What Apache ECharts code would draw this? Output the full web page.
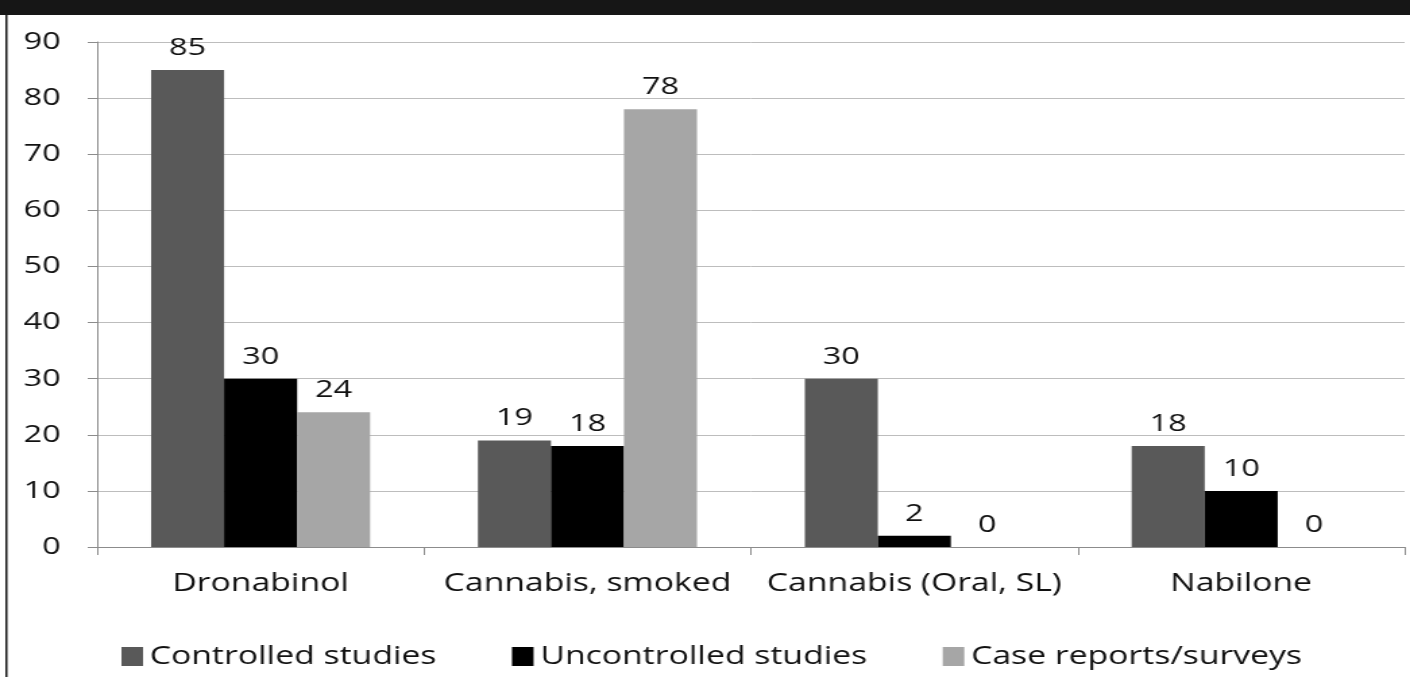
<!DOCTYPE html>
<html>
<head>
<meta charset="utf-8">
<script src="https://cdn.jsdelivr.net/npm/echarts@6/dist/echarts.min.js"></script>
<style>
  html, body { margin: 0; padding: 0; background: #fff; overflow: hidden; }
  /* the source figure is stretched sideways, so the chart is drawn narrower and widened */
  #chart { width: 1045px; height: 677px; transform: scaleX(1.3493); transform-origin: 0 0; }
</style>
</head>
<body>
<div id="chart"></div>
<script>
const categories = ['Dronabinol', 'Cannabis, smoked', 'Cannabis (Oral, SL)', 'Nabilone'];
const controlled = [85, 19, 30, 18];
const uncontrolled = [30, 18, 2, 10];
const caseReports = [24, 78, 0, 0];
const yTicks = [0, 90, 10]; // min, max, interval

const font = '"Open Sans", "Liberation Sans", sans-serif';

const chart = echarts.init(document.getElementById('chart'));

function barSeries(name, data, color) {
    return {
        name: name,
        type: 'bar',
        data: data,
        barGap: '0%',
        barCategoryGap: '33%',
        itemStyle: { color: color },
        label: {
            show: true,
            position: 'top',
            distance: 10,
            color: '#111',
            fontFamily: font,
            fontSize: 24
        }
    };
}

const option = {
    animation: false,
    backgroundColor: '#fff',
    grid: { left: 72, right: 4, top: 42, bottom: 130 },
    legend: {
        bottom: 3,
        left: 85,
        itemWidth: 16,
        itemHeight: 19,
        itemGap: 56,
        icon: 'rect',
        textStyle: { fontFamily: font, fontSize: 25, color: '#111' },
        data: ['Controlled studies', 'Uncontrolled studies', 'Case reports/surveys']
    },
    xAxis: {
        type: 'category',
        data: categories,
        axisLine: { lineStyle: { color: '#8c8c8c', width: 1 } },
        axisTick: { show: true, length: 8, lineStyle: { color: '#8c8c8c' } },
        axisLabel: { interval: 0, color: '#111', fontFamily: font, fontSize: 25, margin: 24 }
    },
    yAxis: {
        type: 'value',
        min: yTicks[0],
        max: yTicks[1],
        interval: yTicks[2],
        axisLine: { show: true, lineStyle: { color: '#8c8c8c', width: 1 } },
        axisTick: { show: true, length: 7, lineStyle: { color: '#8c8c8c' } },
        splitLine: { lineStyle: { color: '#bdbdbd', width: 1 } },
        axisLabel: { color: '#111', fontFamily: font, fontSize: 24, margin: 27 }
    },
    graphic: [
        { type: 'rect', left: 0, top: 0, shape: { width: 1045, height: 15 }, style: { fill: '#161616' } },
        { type: 'rect', left: 4, top: 0, shape: { width: 1.5, height: 677 }, style: { fill: '#161616' } }
    ],
    series: [
        barSeries('Controlled studies', controlled, '#595959'),
        barSeries('Uncontrolled studies', uncontrolled, '#000000'),
        barSeries('Case reports/surveys', caseReports, '#a6a6a6')
    ]
};

chart.setOption(option);
</script>
</body>
</html>
